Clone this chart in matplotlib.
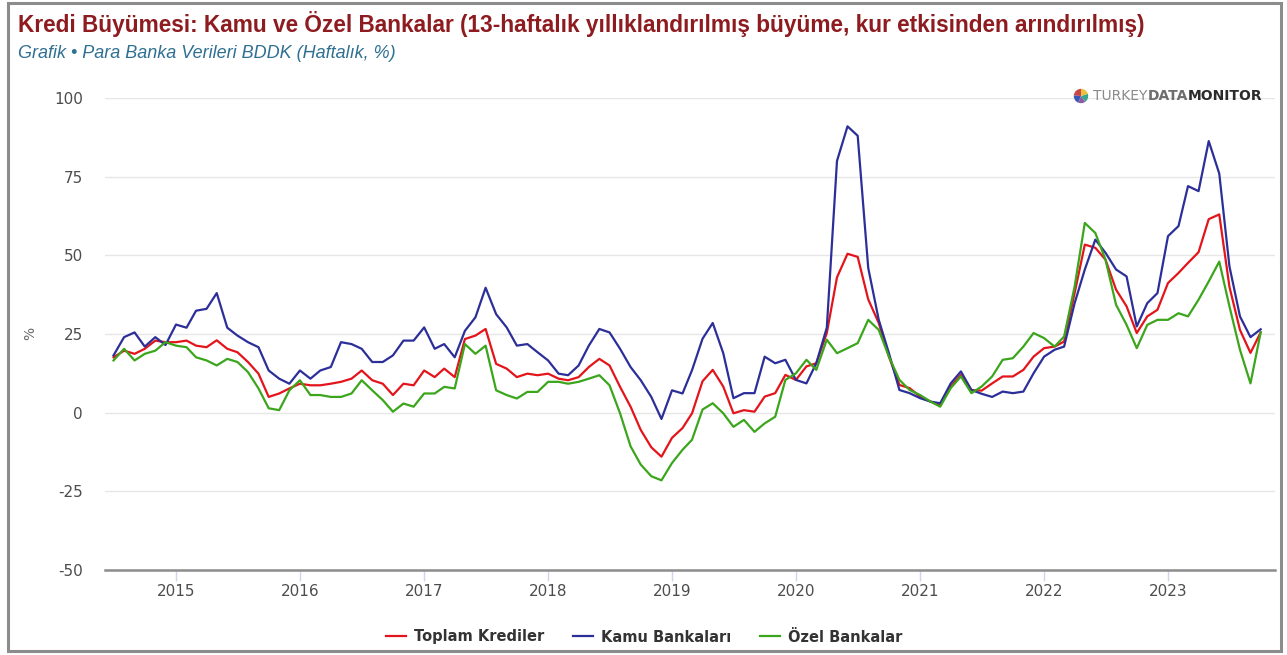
import matplotlib
matplotlib.use("Agg")
import matplotlib.pyplot as plt
import matplotlib.dates as mdates
from matplotlib.patches import Rectangle
import numpy as np
import pandas as pd

plt.rcParams["axes.unicode_minus"] = False

# monthly points, Jul 2014 .. Oct 2023
dates = pd.date_range("2014-07-01", "2023-10-01", freq="MS")

toplam = [17.6, 19.7, 18.7, 20.3, 22.9, 22.4, 22.4, 22.9, 21.3, 20.8,
          23.0, 20.3, 19.2, 16.1, 12.4, 5.0, 6.1, 7.7, 9.2, 8.7,
          8.7, 9.2, 9.8, 10.8, 13.4, 10.3, 9.2, 5.6, 9.2, 8.7,
          13.4, 11.3, 14.0, 11.3, 23.4, 24.5, 26.6, 15.5, 14.0, 11.3,
          12.4, 11.9, 12.4, 10.8, 10.3, 11.3, 14.5, 17.1, 15.0, 8.2,
          1.9, -5.5, -11.0, -14.0, -8.0, -4.9, -0.2, 10.0, 13.6, 8.3,
          -0.2, 0.8, 0.3, 5.1, 6.2, 12.0, 10.4, 14.7, 15.7, 25.3,
          43.0, 50.5, 49.5, 36.0, 28.5, 17.8, 8.8, 7.8, 5.1, 3.5,
          2.4, 8.3, 12.0, 7.2, 7.0, 9.3, 11.5, 11.5, 13.6, 17.8,
          20.5, 21.0, 22.6, 38.0, 53.4, 52.4, 48.6, 39.1, 33.8, 25.3,
          30.6, 32.7, 41.2, 44.4, 47.6, 51.0, 61.5, 63.0, 40.0, 26.3,
          19.0, 25.5]

kamu = [18.2, 24.0, 25.5, 21.0, 24.0, 21.5, 28.0, 27.0, 32.4, 33.0,
        38.0, 27.0, 24.5, 22.4, 20.8, 13.4, 10.8, 9.2, 13.4, 10.8,
        13.4, 14.5, 22.4, 21.8, 20.3, 16.1, 16.1, 18.2, 22.9, 22.9,
        27.1, 20.3, 21.8, 17.6, 26.0, 30.3, 39.7, 31.3, 27.1, 21.3,
        21.8, 19.2, 16.6, 12.4, 11.9, 15.0, 21.3, 26.6, 25.5, 20.3,
        14.5, 10.3, 5.0, -2.0, 7.1, 6.1, 13.5, 23.5, 28.5, 18.9,
        4.6, 6.2, 6.2, 17.8, 15.7, 16.8, 10.4, 9.3, 15.7, 27.0,
        80.0, 91.0, 88.0, 46.0, 29.5, 18.9, 7.2, 6.2, 4.6, 3.5,
        3.0, 9.3, 13.1, 7.2, 6.0, 5.0, 6.7, 6.2, 6.7, 12.5,
        17.8, 20.0, 21.0, 34.8, 45.5, 55.0, 50.8, 45.5, 43.3, 27.4,
        34.8, 38.0, 56.1, 59.3, 72.0, 70.4, 86.3, 76.0, 46.5, 30.6,
        24.0, 26.5]

ozel = [16.6, 20.3, 16.6, 18.7, 19.7, 22.4, 21.3, 20.8, 17.6, 16.6,
        15.0, 17.1, 16.1, 12.9, 7.7, 1.4, 0.8, 7.1, 10.3, 5.6,
        5.6, 5.0, 5.0, 6.1, 10.3, 7.1, 4.0, 0.3, 2.9, 1.9,
        6.1, 6.1, 8.2, 7.7, 21.8, 18.7, 21.3, 7.1, 5.6, 4.5,
        6.6, 6.6, 9.8, 9.8, 9.2, 9.8, 10.8, 11.9, 8.7, -0.2,
        -10.7, -16.5, -20.2, -21.5, -16.0, -11.8, -8.6, 1.0, 3.0, -0.2,
        -4.5, -2.3, -6.1, -3.4, -1.3, 10.4, 12.5, 16.8, 13.6, 23.2,
        18.9, 20.5, 22.1, 29.5, 26.3, 17.8, 10.4, 7.2, 5.6, 3.5,
        1.9, 7.8, 11.5, 6.2, 8.3, 11.5, 16.8, 17.3, 21.0, 25.3,
        23.7, 21.0, 24.2, 40.1, 60.3, 57.1, 48.6, 34.3, 27.9, 20.5,
        27.9, 29.5, 29.5, 31.6, 30.6, 35.9, 41.7, 48.0, 33.8, 20.0,
        9.3, 25.5]

series = [("Toplam Krediler", toplam, "#e3151b"),
          ("Kamu Bankaları", kamu, "#2c2f98"),
          ("Özel Bankalar", ozel, "#3ba51c")]

yticks = [-50, -25, 0, 25, 50, 75, 100]

W, H = 1287, 655
fig = plt.figure(figsize=(W / 100, H / 100), dpi=100)
fig.patch.set_facecolor("white")

# plot area in pixels: x 105..1275, y 98..570
ax = fig.add_axes([105 / W, (H - 570) / H, 1170 / W, 472 / H])

for name, vals, col in series:
    ax.plot(dates, vals, color=col, lw=1.6, label=name, solid_joinstyle="round")

x0 = pd.Timestamp("2015-01-01") - pd.Timedelta(days=0.5726 * 365.25)
x1 = pd.Timestamp("2015-01-01") + pd.Timedelta(days=8.863 * 365.25)
ax.set_xlim(x0, x1)
ax.set_ylim(-50, 100)
ax.set_yticks(yticks)
ax.xaxis.set_major_locator(mdates.YearLocator())
ax.xaxis.set_major_formatter(mdates.DateFormatter("%Y"))

ax.grid(axis="y", color="#e6e6e6", lw=1)
ax.set_axisbelow(True)
for s in ["top", "right", "left"]:
    ax.spines[s].set_visible(False)
ax.spines["bottom"].set_color("#8c8c8c")
ax.spines["bottom"].set_linewidth(1.8)

ax.tick_params(axis="y", length=0, pad=16, labelsize=11, labelcolor="#4d4d4d")
ax.tick_params(axis="x", length=8, width=1, color="#ccd6eb", pad=2,
               labelsize=11, labelcolor="#4d4d4d")

fig.text(30 / W, (H - 333) / H, "%", rotation=90, ha="center", va="center",
         fontsize=10, color="#666666")

# titles
fig.text(18 / W, (H - 24) / H, "Kredi Büyümesi: Kamu ve Özel Bankalar (13-haftalık yıllıklandırılmış büyüme, kur etkisinden arındırılmış)",
         family="Liberation Sans", fontsize=16.3, fontweight="bold", color="#8e1b1f",
         ha="left", va="center")
fig.text(18 / W, (H - 54) / H, "Grafik • Para Banka Verileri BDDK (Haftalık, %)",
         family="Liberation Sans", fontsize=13, style="italic", color="#2e6f92",
         ha="left", va="center")

# legend
fig.legend(loc="center", bbox_to_anchor=(644 / W, (H - 637) / H), ncol=3,
           frameon=False, prop={"size": 10.5, "weight": "bold"},
           handlelength=1.4, handletextpad=0.5, columnspacing=2.0,
           labelcolor="#333333")

# logo
pie_ax = fig.add_axes([1072 / W, (H - 105) / H, 18 / W, 18 / H])
pie_ax.pie([1.2, 1, 0.8, 1, 1], colors=["#c9474a", "#3d57b5", "#8d5ba6", "#3aa58f", "#e9c23a"],
           startangle=90, wedgeprops={"linewidth": 0})
pie_ax.set_aspect("equal")
fig.canvas.draw()
r = fig.canvas.get_renderer()
xpos = 1093
for txt, wt, col in [("TURKEY", "normal", "#8a8a8a"), ("DATA", "bold", "#6e6e6e"),
                     ("MONITOR", "bold", "#2b2b2b")]:
    t = fig.text(xpos / W, (H - 96) / H, txt, fontsize=10, fontweight=wt,
                 family="Liberation Sans Narrow", color=col, ha="left", va="center")
    bb = t.get_window_extent(r)
    xpos = bb.x1

# screenshot frame
fig.patches.append(Rectangle((8 / W, 4 / H), 1273 / W, 648 / H, transform=fig.transFigure,
                             fill=False, edgecolor="#8c8c8c", lw=2.2))

fig.savefig("out.png", dpi=100)
